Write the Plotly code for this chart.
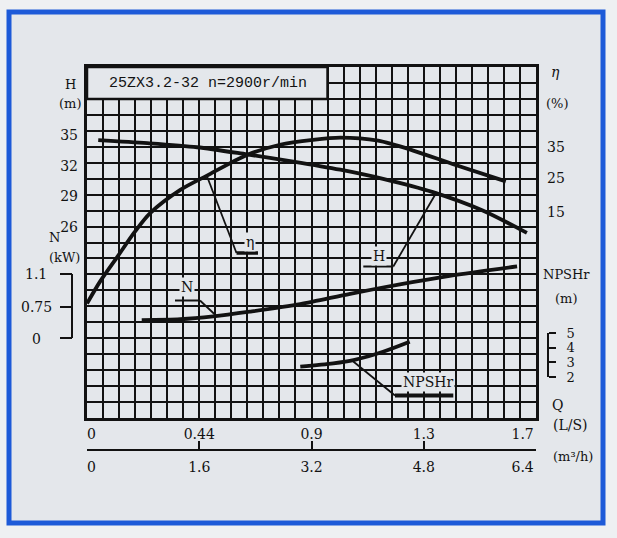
import plotly.graph_objects as go

# ---------------- data ----------------
# flow Q in m3/h
H_Q = [0.16, 0.86, 1.57, 2.28, 2.94, 3.61, 4.22, 4.93, 5.64, 6.27]
H_m = [34.5, 34.2, 33.8, 33.1, 32.4, 31.6, 30.7, 29.4, 27.6, 25.4]
ETA_Q = [0, 0.19, 0.44, 0.68, 0.90, 1.33, 1.71, 2.28, 2.75, 3.22, 3.61, 4.15, 4.65, 5.21, 5.97]
ETA_pct = [0, 5.0, 10.6, 16.0, 20.2, 25.4, 28.6, 33.2, 35.5, 36.6, 37.1, 36.4, 34.2, 31.2, 27.3]
N_Q = [0.78, 1.33, 1.80, 2.32, 3.04, 3.75, 4.46, 5.17, 6.13]
N_kW = [0.61, 0.62, 0.65, 0.70, 0.78, 0.89, 0.99, 1.08, 1.18]
NPSH_Q = [3.04, 3.51, 3.80, 4.22, 4.60]
NPSH_m = [2.70, 2.93, 3.15, 3.72, 4.40]

Q_TICKS_M3H = [0, 1.6, 3.2, 4.8, 6.4]
Q_LABELS_M3H = ['0', '1.6', '3.2', '4.8', '6.4']
Q_LABELS_LS = ['0', '0.44', '0.9', '1.3', '1.7']
H_TICKS = [26, 29, 32, 35]
ETA_LABELS = ['35', '25', '15']
N_LABELS = ['1.1', '0.75', '0']
NPSH_TICKS = [2, 3, 4, 5]
TITLE = '25ZX3.2-32 n=2900r/min'
GRID_COLS, GRID_ROWS = 28, 22

# ---------------- layout geometry ----------------
W, HT = 617, 538
ML, MR, MT, MB = 87, 17, 67, 60
PW, PH = W - ML - MR, HT - MT - MB
P_TOP, P_BOT, P_RIGHT = 67, 418, 536


def PX(x):
    return (x - ML) / PW


def PY(y):
    return (HT - MB - y) / PH


def cal(va, ya, vb, yb):
    s = (va - vb) / (yb - ya)
    return [va - (P_BOT - ya) * s, va + (ya - P_TOP) * s]


BG = '#e4e7eb'
OUT = '#eef0f2'
INK = '#121212'
SERIF = 'DejaVu Serif'
NBSP = '\u00a0'

fig = go.Figure()
line = dict(color=INK, width=3.8, shape='spline', smoothing=0.8)
fig.add_trace(go.Scatter(x=[None], y=[None], xaxis='x', yaxis='y', showlegend=False, hoverinfo='skip'))
fig.add_trace(go.Scatter(x=[None], y=[None], xaxis='x3', yaxis='y', showlegend=False, hoverinfo='skip'))
fig.add_trace(go.Scatter(x=H_Q, y=H_m, xaxis='x2', yaxis='y2', mode='lines', line=line, name='H'))
fig.add_trace(go.Scatter(x=ETA_Q, y=ETA_pct, xaxis='x2', yaxis='y3', mode='lines', line=line, name='η'))
fig.add_trace(go.Scatter(x=N_Q, y=N_kW, xaxis='x2', yaxis='y4', mode='lines', line=line, name='N'))
fig.add_trace(go.Scatter(x=NPSH_Q, y=NPSH_m, xaxis='x2', yaxis='y5', mode='lines', line=line, name='NPSHr'))

xdom = [0, (P_RIGHT - ML) / PW]
ydom = [PY(P_BOT), 1]
axis_pos = PY(449.5)
tf = dict(family=SERIF, size=14, color=INK)

m3h_text = [NBSP * 2 + Q_LABELS_M3H[0]] + Q_LABELS_M3H[1:-1] + [Q_LABELS_M3H[-1] + NBSP * 6]
ls_text = [NBSP * 2 + Q_LABELS_LS[0]] + Q_LABELS_LS[1:-1] + [Q_LABELS_LS[-1] + NBSP * 6]

fig.update_layout(
    template='none',
    width=W, height=HT, autosize=False,
    margin=dict(l=ML, r=MR, t=MT, b=MB, pad=0),
    paper_bgcolor=OUT, plot_bgcolor=BG, showlegend=False,
    xaxis=dict(domain=xdom, range=[0, GRID_COLS], dtick=1, tick0=0, showgrid=True,
               gridcolor=INK, gridwidth=2.4, showline=True, mirror=True, linecolor=INK,
               linewidth=3, showticklabels=False, ticks='', zeroline=False, automargin=False),
    yaxis=dict(domain=ydom, range=[0, GRID_ROWS], dtick=1, tick0=0, showgrid=True,
               gridcolor=INK, gridwidth=2.4, showline=True, mirror=True, linecolor=INK,
               linewidth=3, showticklabels=False, ticks='', zeroline=False, automargin=False),
    xaxis2=dict(overlaying='x', anchor='free', position=axis_pos, side='bottom',
                range=[0, 6.4], tickvals=Q_TICKS_M3H, ticktext=m3h_text, ticks='inside',
                ticklen=8, tickwidth=2, tickcolor=INK, showline=True, linewidth=2,
                linecolor=INK, showgrid=False, zeroline=False, tickfont=tf,
                ticklabelstandoff=5, automargin=False),
    xaxis3=dict(overlaying='x', anchor='free', position=axis_pos, side='top',
                range=[0, 6.4], tickvals=Q_TICKS_M3H, ticktext=ls_text, ticks='',
                showline=False, showgrid=False, zeroline=False, tickfont=tf,
                ticklabelstandoff=8, automargin=False),
    yaxis2=dict(overlaying='y', anchor='free', position=0, side='left',
                range=cal(35, 135, 26, 226.8), tickvals=H_TICKS, ticks='',
                showline=False, showgrid=False, zeroline=False, tickfont=tf,
                ticklabelstandoff=9, automargin=False),
    yaxis3=dict(overlaying='y', visible=False, range=cal(35, 147, 0, 303.5), automargin=False),
    yaxis4=dict(overlaying='y', visible=False, range=cal(1.1, 274, 0.75, 307), automargin=False),
    yaxis5=dict(overlaying='y', anchor='free', position=PX(548), side='right',
                range=cal(5, 333, 2, 377), tickvals=NPSH_TICKS, ticks='outside',
                ticklen=7, tickwidth=2, tickcolor=INK, showline=False, showgrid=False,
                zeroline=False, tickfont=dict(family=SERIF, size=13, color=INK),
                ticklabelstandoff=8, automargin=False),
)

shapes = []
# blue frame
shapes.append(dict(type='rect', xref='paper', yref='paper', x0=PX(9), x1=PX(603),
                   y0=PY(523), y1=PY(12), line=dict(color='#1d5ad8', width=5),
                   fillcolor=BG, layer='below'))
# title box (covers grid rows/cols in grid units)
shapes.append(dict(type='rect', xref='x', yref='y', x0=0, x1=15, y0=GRID_ROWS - 2,
                   y1=GRID_ROWS, line=dict(color=INK, width=2.5), fillcolor=BG,
                   layer='above'))


def seg(x0, y0, x1, y1, w=2):
    shapes.append(dict(type='line', xref='paper', yref='paper', x0=PX(x0), y0=PY(y0),
                       x1=PX(x1), y1=PY(y1), line=dict(color=INK, width=w)))


# N bracket (left)
seg(72, 274, 72, 338, 2)
for yy in (274, 307, 338):
    seg(60, yy, 72, yy, 2)
# NPSHr bracket (right), ticks come from the axis
shapes.append(dict(type='line', xref='paper', yref='y5', x0=PX(548), x1=PX(548),
                   y0=min(NPSH_TICKS), y1=max(NPSH_TICKS), line=dict(color=INK, width=2)))
# callout leaders
seg(206.7, 175.5, 236.5, 253, 1.8)
seg(236.5, 253, 258, 253, 3.5)
seg(436.7, 192, 393.3, 266.5, 1.8)
seg(363.3, 266.5, 393.3, 266.5, 2)
seg(200, 300.5, 217, 316.5, 1.8)
seg(175, 300.5, 200, 300.5, 2)
seg(353.3, 361.5, 395, 395.5, 1.8)
seg(395, 395.5, 453.3, 395.5, 4)
fig.update_layout(shapes=shapes)

ann = []


def T(text, x, y, size=13, family=SERIF, bg=None):
    d = dict(text=text, x=PX(x), y=PY(y), xref='paper', yref='paper', showarrow=False,
             xanchor='center', yanchor='middle',
             font=dict(family=family, size=size, color=INK))
    if bg:
        d.update(bgcolor=bg, borderpad=1)
    ann.append(d)


T(TITLE, 208, 84, 15, 'Liberation Mono')
# left labels
T('H', 70, 85)
T('(m)', 70, 103)
T('N', 54, 237)
T('(kW)', 64, 257)
for lab, yy in zip(N_LABELS, (274, 307, 339)):
    T(lab, 36, yy, 14)
# right labels
T('<i>η</i>', 555, 72, 14)
T('(%)', 557, 103)
for lab, yy in zip(ETA_LABELS, (147, 178, 212)):
    T(lab, 556, yy, 14)
T('NPSHr', 566, 274)
T('(m)', 566, 298)
T('Q', 557, 405, 14)
T('(L/S)', 570, 425, 14)
T('(m³/h)', 573, 456, 13)
# curve labels on the grid
T('η', 250, 242, 14, bg=BG)
T('H', 379, 256, 14, bg=BG)
T('N', 187, 287, 14, bg=BG)
T('NPSHr', 428, 382, 14, bg=BG)
fig.update_layout(annotations=ann)

fig.write_html('out.html', config={'displayModeBar': False},
               post_script="document.body.style.margin='0px';document.body.style.overflow='hidden';")
